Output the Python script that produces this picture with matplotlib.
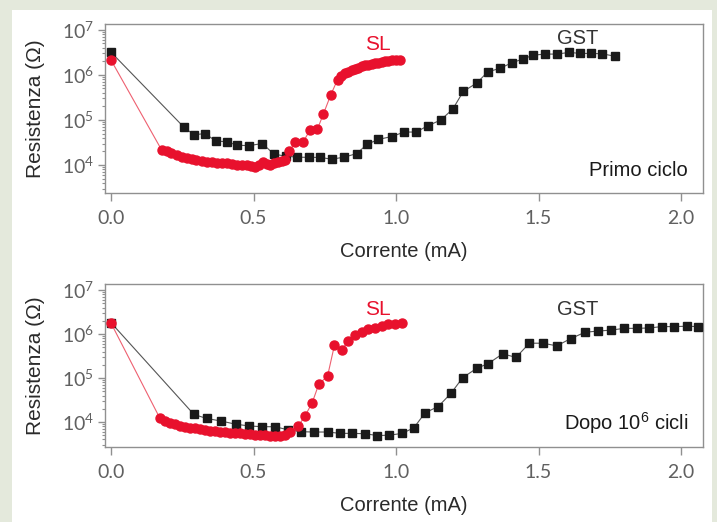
import matplotlib
matplotlib.use("Agg")
import matplotlib.pyplot as plt
from matplotlib.patches import Rectangle
from matplotlib.ticker import LogLocator, NullFormatter, FixedLocator

# ---------------- data ----------------
# Top panel: "Primo ciclo"
gst1_x = [0.000, 0.256, 0.291, 0.330, 0.368, 0.406, 0.443, 0.484, 0.531, 0.572,
          0.613, 0.651, 0.695, 0.733, 0.774, 0.819, 0.862, 0.899, 0.938, 0.985,
          1.029, 1.070, 1.111, 1.157, 1.199, 1.236, 1.283, 1.322, 1.365, 1.406,
          1.444, 1.482, 1.523, 1.564, 1.608, 1.646, 1.684, 1.722, 1.768]
gst1_r = [3.2e6, 6.9e4, 4.7e4, 5.0e4, 3.4e4, 3.3e4, 2.75e4, 2.7e4, 3.0e4, 1.74e4,
          1.58e4, 1.5e4, 1.48e4, 1.48e4, 1.35e4, 1.5e4, 1.8e4, 2.9e4, 3.7e4, 4.3e4,
          5.4e4, 5.4e4, 7.4e4, 1.0e5, 1.74e5, 4.3e5, 6.6e5, 1.17e6, 1.4e6, 1.86e6,
          2.24e6, 2.75e6, 2.9e6, 2.9e6, 3.16e6, 3.0e6, 3.0e6, 2.95e6, 2.6e6]

sl1_x = [0.000, 0.178, 0.195, 0.212, 0.230, 0.248, 0.266, 0.284, 0.300, 0.318,
         0.336, 0.354, 0.371, 0.389, 0.406, 0.424, 0.441, 0.459, 0.476, 0.490,
         0.505, 0.520, 0.534, 0.546, 0.558, 0.572, 0.587, 0.600, 0.611, 0.626,
         0.646, 0.675, 0.698, 0.724, 0.745, 0.771, 0.795, 0.808, 0.821, 0.833,
         0.844, 0.856, 0.868, 0.880, 0.891, 0.903, 0.915, 0.926, 0.938, 0.950,
         0.961, 0.973, 0.985, 1.000, 1.014]
sl1_r = [2.14e6, 2.14e4, 2.0e4, 1.82e4, 1.66e4, 1.51e4, 1.41e4, 1.35e4, 1.29e4, 1.23e4,
         1.17e4, 1.15e4, 1.12e4, 1.10e4, 1.10e4, 1.05e4, 9.8e3, 9.8e3, 9.8e3, 9.3e3,
         9.1e3, 1.0e4, 1.17e4, 1.07e4, 1.0e4, 1.10e4, 1.17e4, 1.23e4, 1.29e4, 2.0e4,
         3.3e4, 3.3e4, 6.0e4, 6.2e4, 1.35e5, 3.6e5, 7.9e5, 9.5e5, 1.10e6, 1.17e6,
         1.26e6, 1.35e6, 1.45e6, 1.55e6, 1.62e6, 1.66e6, 1.74e6, 1.82e6, 1.86e6, 1.95e6,
         2.0e6, 2.04e6, 2.09e6, 2.14e6, 2.14e6]

# Bottom panel: "Dopo 10^6 cicli"
gst2_x = [0.000, 0.291, 0.336, 0.386, 0.437, 0.485, 0.531, 0.575, 0.622, 0.667,
          0.713, 0.760, 0.804, 0.847, 0.891, 0.935, 0.977, 1.022, 1.063, 1.102,
          1.148, 1.193, 1.234, 1.283, 1.324, 1.374, 1.421, 1.468, 1.515, 1.564,
          1.613, 1.663, 1.707, 1.754, 1.800, 1.845, 1.889, 1.932, 1.975, 2.020,
          2.061]
gst2_r = [1.82e6, 1.48e4, 1.20e4, 1.05e4, 8.9e3, 8.1e3, 7.8e3, 7.8e3, 6.6e3, 6.0e3,
          5.9e3, 5.9e3, 5.5e3, 5.5e3, 5.4e3, 4.9e3, 5.0e3, 5.5e3, 7.4e3, 1.62e4,
          2.24e4, 4.5e4, 1.02e5, 1.66e5, 2.14e5, 3.55e5, 2.95e5, 6.2e5, 6.2e5, 5.4e5,
          7.9e5, 1.10e6, 1.17e6, 1.23e6, 1.35e6, 1.35e6, 1.38e6, 1.48e6, 1.48e6, 1.51e6,
          1.48e6]

sl2_x = [0.000, 0.172, 0.190, 0.207, 0.225, 0.242, 0.260, 0.277, 0.295, 0.312,
         0.330, 0.347, 0.365, 0.382, 0.400, 0.418, 0.435, 0.453, 0.470, 0.488,
         0.505, 0.523, 0.540, 0.558, 0.575, 0.593, 0.610, 0.628, 0.657, 0.681,
         0.706, 0.729, 0.760, 0.784, 0.810, 0.833, 0.856, 0.879, 0.903, 0.926,
         0.950, 0.973, 0.996, 1.020]
sl2_r = [1.78e6, 1.20e4, 1.07e4, 9.5e3, 8.9e3, 8.3e3, 7.8e3, 7.4e3, 7.1e3, 6.8e3,
         6.5e3, 6.3e3, 6.2e3, 6.0e3, 5.9e3, 5.75e3, 5.6e3, 5.5e3, 5.4e3, 5.35e3,
         5.1e3, 5.0e3, 4.95e3, 4.9e3, 4.8e3, 4.7e3, 5.0e3, 6.0e3, 8.1e3, 1.38e4,
         2.75e4, 7.2e4, 1.12e5, 5.6e5, 4.4e5, 7.1e5, 9.5e5, 1.12e6, 1.29e6, 1.41e6,
         1.55e6, 1.66e6, 1.74e6, 1.82e6]

x_ticks = [0.0, 0.5, 1.0, 1.5, 2.0]
x_tick_labels = ["0.0", "0.5", "1.0", "1.5", "2.0"]
y_ticks = [1e4, 1e5, 1e6, 1e7]
y_tick_labels = [r"$\mathregular{10^{4}}$", r"$\mathregular{10^{5}}$",
                 r"$\mathregular{10^{6}}$", r"$\mathregular{10^{7}}$"]
x_label = "Corrente (mA)"
y_label = "Resistenza (Ω)"
panel_labels = ["Primo ciclo", r"Dopo 10$^{\mathregular{6}}$ cicli"]
series_labels = ["SL", "GST"]

# ---------------- style ----------------
BG = "#e4e9dc"
RED = "#e8112d"
RED_LINE = "#ee6070"
BLK = "#1a1a1a"
GRAY_LINE = "#555555"
SPINE = "#909090"
TICK_TXT = "#606060"
FONT = "Liberation Sans"

plt.rcParams["mathtext.fontset"] = "custom"
plt.rcParams["mathtext.rm"] = "Lato"

fig = plt.figure(figsize=(7.17, 5.22), dpi=100)
fig.patch.set_facecolor(BG)
fig.patches.append(Rectangle((12 / 717, 0), 700 / 717, 1 - 10 / 522,
                             transform=fig.transFigure, facecolor="white",
                             edgecolor="none", zorder=-10))

ax_top = fig.add_axes([105 / 717, 1 - 193 / 522, 598 / 717, 169 / 522])
ax_bot = fig.add_axes([105 / 717, 1 - 447 / 522, 598 / 717, 163 / 522])

panels = [
    (ax_top, gst1_x, gst1_r, sl1_x, sl1_r, (10 ** 3.38, 10 ** 7.13), panel_labels[0], 0.136),
    (ax_bot, gst2_x, gst2_r, sl2_x, sl2_r, (10 ** 3.43, 10 ** 7.14), panel_labels[1], 0.150),
]

for ax, gx, gr, sx, sr, ylim, plabel, py in panels:
    ax.set_facecolor("none")
    ax.set_yscale("log")
    ax.plot(gx, gr, color=GRAY_LINE, lw=0.8, zorder=2)
    ax.plot(gx, gr, ls="none", marker="s", ms=5.8, mfc=BLK, mec=BLK, zorder=3,
            clip_on=False)
    ax.plot(sx, sr, color=RED_LINE, lw=0.8, zorder=4)
    ax.plot(sx, sr, ls="none", marker="o", ms=6.5, mfc=RED, mec=RED, zorder=5)
    ax.set_xlim(-0.021, 2.077)
    ax.set_ylim(*ylim)

    ax.xaxis.set_major_locator(FixedLocator(x_ticks))
    ax.set_xticklabels(x_tick_labels)
    ax.yaxis.set_major_locator(FixedLocator(y_ticks))
    ax.set_yticklabels(y_tick_labels)
    ax.yaxis.set_minor_locator(LogLocator(base=10, subs=range(2, 10)))
    ax.yaxis.set_minor_formatter(NullFormatter())

    for sp in ax.spines.values():
        sp.set_color(SPINE)
        sp.set_linewidth(1.0)
    ax.tick_params(axis="x", which="major", direction="out", length=6, width=1,
                   color=SPINE, pad=6, labelsize=14, labelcolor=TICK_TXT)
    ax.tick_params(axis="y", which="major", direction="out", length=5, width=1,
                   color=SPINE, pad=3, labelsize=14, labelcolor=TICK_TXT)
    ax.tick_params(axis="y", which="minor", direction="out", length=2.5, width=0.8,
                   color=SPINE)
    for lbl in ax.get_xticklabels() + ax.get_yticklabels():
        lbl.set_fontfamily("Lato")

    ax.set_xlabel(x_label, fontsize=14.5, color="#2a2a2a", family=FONT, labelpad=11)
    ax.set_ylabel(y_label, fontsize=15, color="#2a2a2a", family=FONT)
    ax.yaxis.set_label_coords(-0.100, 0.5)

    ax.text(0.975, py, plabel, transform=ax.transAxes, ha="right", va="center",
            fontsize=14.5, color="#1a1a1a", family=FONT)

# series annotations
ax_top.text(0.937, 10 ** 6.67, series_labels[0], color=RED, fontsize=15, ha="center",
            va="center", family=FONT)
ax_top.text(1.639, 10 ** 6.80, series_labels[1], color="#333333", fontsize=14.5,
            ha="center", va="center", family=FONT)
ax_bot.text(0.937, 10 ** 6.55, series_labels[0], color=RED, fontsize=15, ha="center",
            va="center", family=FONT)
ax_bot.text(1.639, 10 ** 6.55, series_labels[1], color="#333333", fontsize=14.5,
            ha="center", va="center", family=FONT)

fig.savefig("out.png", dpi=100, facecolor=BG)
